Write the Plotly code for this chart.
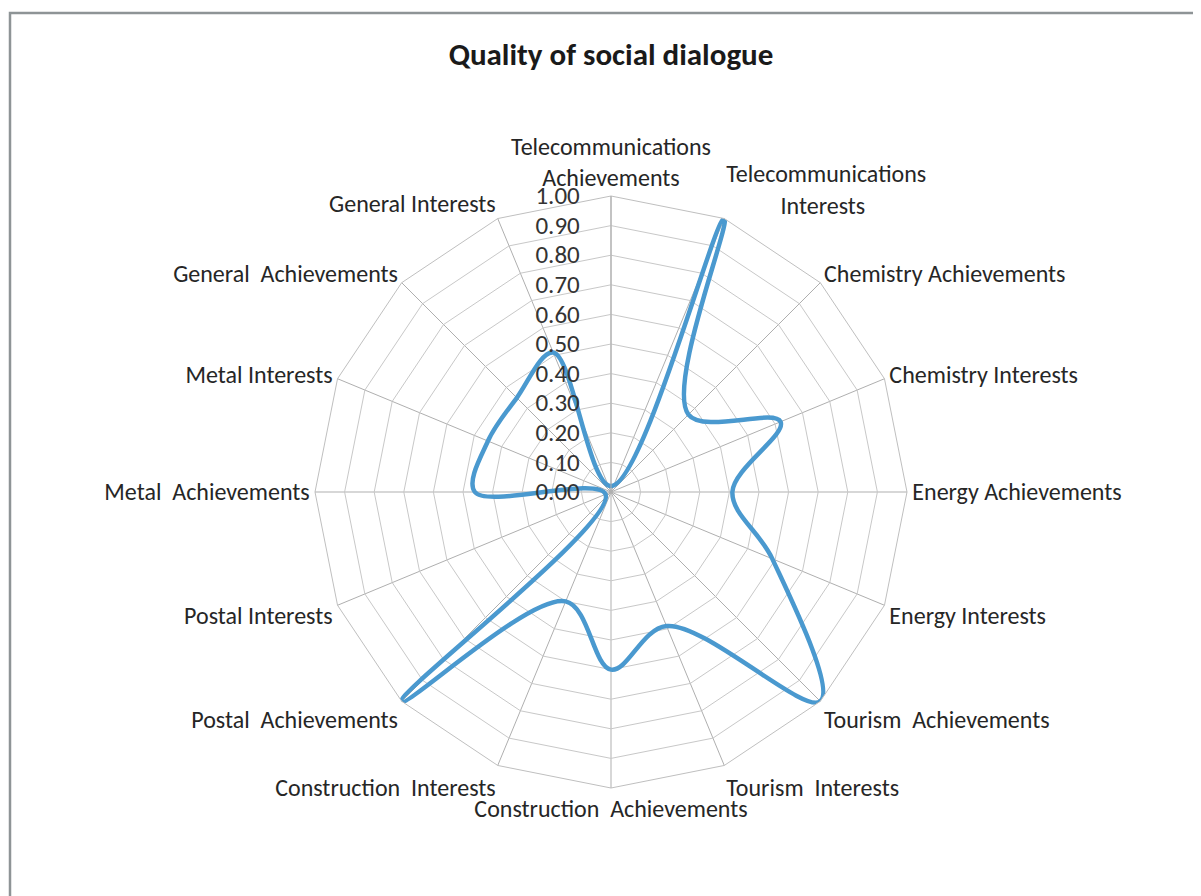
import plotly.graph_objects as go

NB = "\u00a0"
categories = [
    "Telecommunications<br>Achievements",
    "Telecommunications<br>" + NB * 10 + "Interests",
    "Chemistry Achievements",
    "Chemistry Interests",
    "Energy Achievements",
    "Energy Interests",
    "Tourism" + NB + " Achievements",
    "Tourism" + NB + " Interests",
    "Construction" + NB + " Achievements",
    "Construction" + NB + " Interests",
    "Postal" + NB + " Achievements",
    "Postal Interests",
    "Metal" + NB + " Achievements",
    "Metal Interests",
    "General" + NB + " Achievements",
    "General Interests",
]
values = [0.02, 1.00, 0.37, 0.62, 0.41, 0.59, 1.00, 0.49,
          0.60, 0.40, 1.00, 0.02, 0.46, 0.45, 0.45, 0.51]
radial_ticks = [0.0, 0.1, 0.2, 0.3, 0.4, 0.5, 0.6, 0.7, 0.8, 0.9, 1.0]
title_text = "Quality of social dialogue"

OFF = 8  # browser body margin
W, H = 1201 - OFF, 896 - OFF
cx, cy, R = 611 - OFF, 492 - OFF, 296

FONT = "Carlito, Lato, 'Noto Sans', sans-serif"

fig = go.Figure()
fig.add_trace(go.Scatterpolar(
    r=values + values[:1],
    theta=categories + categories[:1],
    mode="lines",
    line=dict(color="#4A99CF", width=4.5, shape="spline", smoothing=1),
    fill="toself",
    fillcolor="rgba(0,0,0,0)",
    showlegend=False,
    hoverinfo="r+theta",
))

fig.update_layout(
    width=W, height=H,
    margin=dict(l=0, r=0, t=0, b=0),
    paper_bgcolor="white",
    plot_bgcolor="white",
    font=dict(family=FONT, color="#262626"),
    title=dict(text=title_text, x=(611 - OFF) / W, xanchor="center",
               y=1 - (54 - OFF) / H, yanchor="middle",
               font=dict(family=FONT, size=31, color="#1a1a1a", weight="bold")),
    polar=dict(
        domain=dict(x=[(cx - R) / W, (cx + R) / W],
                    y=[1 - (cy + R) / H, 1 - (cy - R) / H]),
        bgcolor="white",
        gridshape="linear",
        angularaxis=dict(
            direction="clockwise",
            rotation=90,
            showline=True,
            linecolor="#BFBFBF",
            linewidth=1,
            gridcolor="#AFAFAF",
            gridwidth=1,
            ticks="",
            tickfont=dict(family=FONT, size=24, color="#262626"),
        ),
        radialaxis=dict(
            range=[0, 1],
            tickvals=radial_ticks,
            tickformat=".2f",
            angle=90,
            tickangle=90,
            side="counterclockwise",
            showline=True,
            linecolor="#AFAFAF",
            gridcolor="#C8C8C8",
            gridwidth=1,
            ticks="outside",
            ticklen=22,
            tickcolor="rgba(0,0,0,0)",
            tickfont=dict(family=FONT, size=25, color="#333333"),
        ),
    ),
    shapes=[dict(type="rect", xref="paper", yref="paper",
                 x0=(10 - OFF) / W, x1=1.1, y0=-0.1, y1=1 - (13 - OFF) / H,
                 line=dict(color="#8E9496", width=2.5),
                 fillcolor="rgba(0,0,0,0)", layer="below")],
)

fig.write_html("out.html")
